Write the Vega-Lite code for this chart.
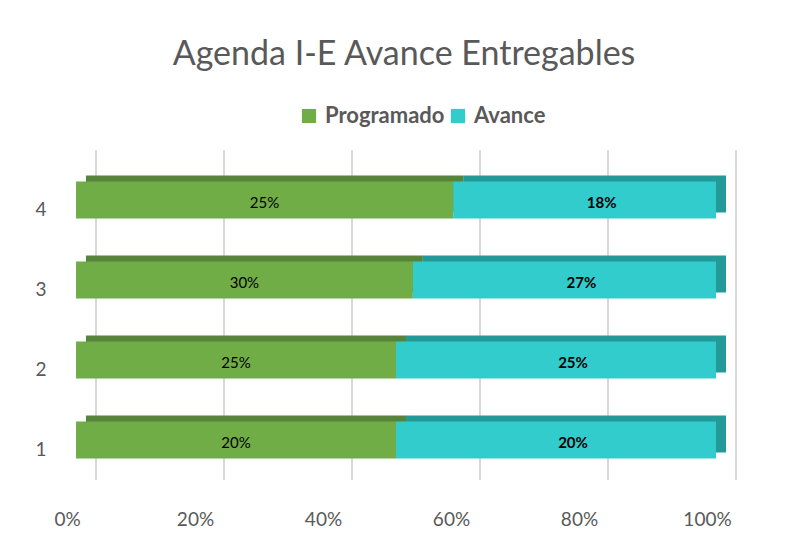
{
  "$schema": "https://vega.github.io/schema/vega-lite/v6.json",
  "width": 640,
  "height": 320,
  "autosize": "none",
  "padding": {"left": 76, "top": 160, "right": 76, "bottom": 78},
  "background": "white",
  "title": {
    "text": "Agenda I-E Avance Entregables",
    "anchor": "middle",
    "frame": "group",
    "offset": 33,
    "dx": 8,
    "fontSize": 34,
    "font": "Lato",
    "fontWeight": "normal",
    "color": "#595959"
  },
  "data": {
    "values": [
      {"cat": "1", "serie": "Programado", "v": 0.20},
      {"cat": "1", "serie": "Avance", "v": 0.20},
      {"cat": "2", "serie": "Programado", "v": 0.25},
      {"cat": "2", "serie": "Avance", "v": 0.25},
      {"cat": "3", "serie": "Programado", "v": 0.30},
      {"cat": "3", "serie": "Avance", "v": 0.27},
      {"cat": "4", "serie": "Programado", "v": 0.254},
      {"cat": "4", "serie": "Avance", "v": 0.177}
    ]
  },
  "transform": [
    {"stack": "v", "groupby": ["cat"], "sort": [{"field": "serie", "order": "descending"}], "offset": "normalize", "as": ["x0", "x1"]},
    {"calculate": "(datum.x0 + datum.x1) / 2", "as": "mid"}
  ],
  "encoding": {
    "y": {
      "field": "cat",
      "type": "nominal",
      "sort": "descending",
      "axis": {
        "title": null,
        "domain": false,
        "ticks": false,
        "labelFontSize": 19,
        "labelFont": "Lato",
        "labelColor": "#595959",
        "labelPadding": 30,
        "labelOffset": 10
      }
    }
  },
  "layer": [
    {
      "data": {"values": [{"g": 0}, {"g": 0.2}, {"g": 0.4}, {"g": 0.6}, {"g": 0.8}, {"g": 1}]},
      "transform": [],
      "mark": {"type": "rule", "color": "#d9d9d9", "strokeWidth": 2, "xOffset": 20, "yOffset": -10},
      "encoding": {
        "y": null,
        "x": {
          "field": "g",
          "type": "quantitative",
          "scale": {"domain": [0, 1], "nice": false},
          "axis": {
            "title": null,
            "grid": false,
            "domain": false,
            "ticks": false,
            "values": [0, 0.2, 0.4, 0.6, 0.8, 1],
            "format": ".0%",
            "labelFontSize": 19,
            "labelFont": "Lato",
            "labelColor": "#595959",
            "labelPadding": 30,
            "labelFlush": false,
            "labelOffset": -9
          }
        }
      }
    },
    {
      "mark": {"type": "bar", "size": 37, "xOffset": 10, "x2Offset": 10, "yOffset": -6},
      "encoding": {
        "x": {"field": "x0", "type": "quantitative"},
        "x2": {"field": "x1"},
        "color": {
          "field": "serie",
          "type": "nominal",
          "scale": {"domain": ["Programado", "Avance"], "range": ["#57843A", "#239A98"]},
          "legend": null
        }
      }
    },
    {
      "mark": {"type": "bar", "size": 37},
      "encoding": {
        "x": {"field": "x0", "type": "quantitative"},
        "x2": {"field": "x1"},
        "fill": {
          "field": "serie",
          "type": "nominal",
          "scale": {"domain": ["Programado", "Avance"], "range": ["#70AD47", "#33CCCC"]},
          "legend": {
            "title": null,
            "orient": "none",
            "direction": "horizontal",
            "legendX": 222,
            "legendY": -55,
            "symbolType": "square",
            "symbolSize": 200,
            "symbolStrokeWidth": 0,
            "labelFontSize": 22,
            "labelFont": "Lato",
            "labelFontWeight": "bold",
            "labelColor": "#595959",
            "columnPadding": 2,
            "labelOffset": 5
          }
        }
      }
    },
    {
      "transform": [{"filter": "datum.serie == 'Programado'"}],
      "mark": {"type": "text", "fontSize": 15, "font": "Lato", "color": "#000000", "dy": 3},
      "encoding": {
        "x": {"field": "mid", "type": "quantitative"},
        "text": {"field": "v", "type": "quantitative", "format": ".0%"}
      }
    },
    {
      "transform": [{"filter": "datum.serie == 'Avance'"}],
      "mark": {"type": "text", "fontSize": 15, "font": "Lato", "fontWeight": "bold", "color": "#000000", "dy": 3, "dx": 17},
      "encoding": {
        "x": {"field": "mid", "type": "quantitative"},
        "text": {"field": "v", "type": "quantitative", "format": ".0%"}
      }
    }
  ],
  "resolve": {"scale": {"color": "independent"}},
  "config": {"view": {"stroke": null}}
}
